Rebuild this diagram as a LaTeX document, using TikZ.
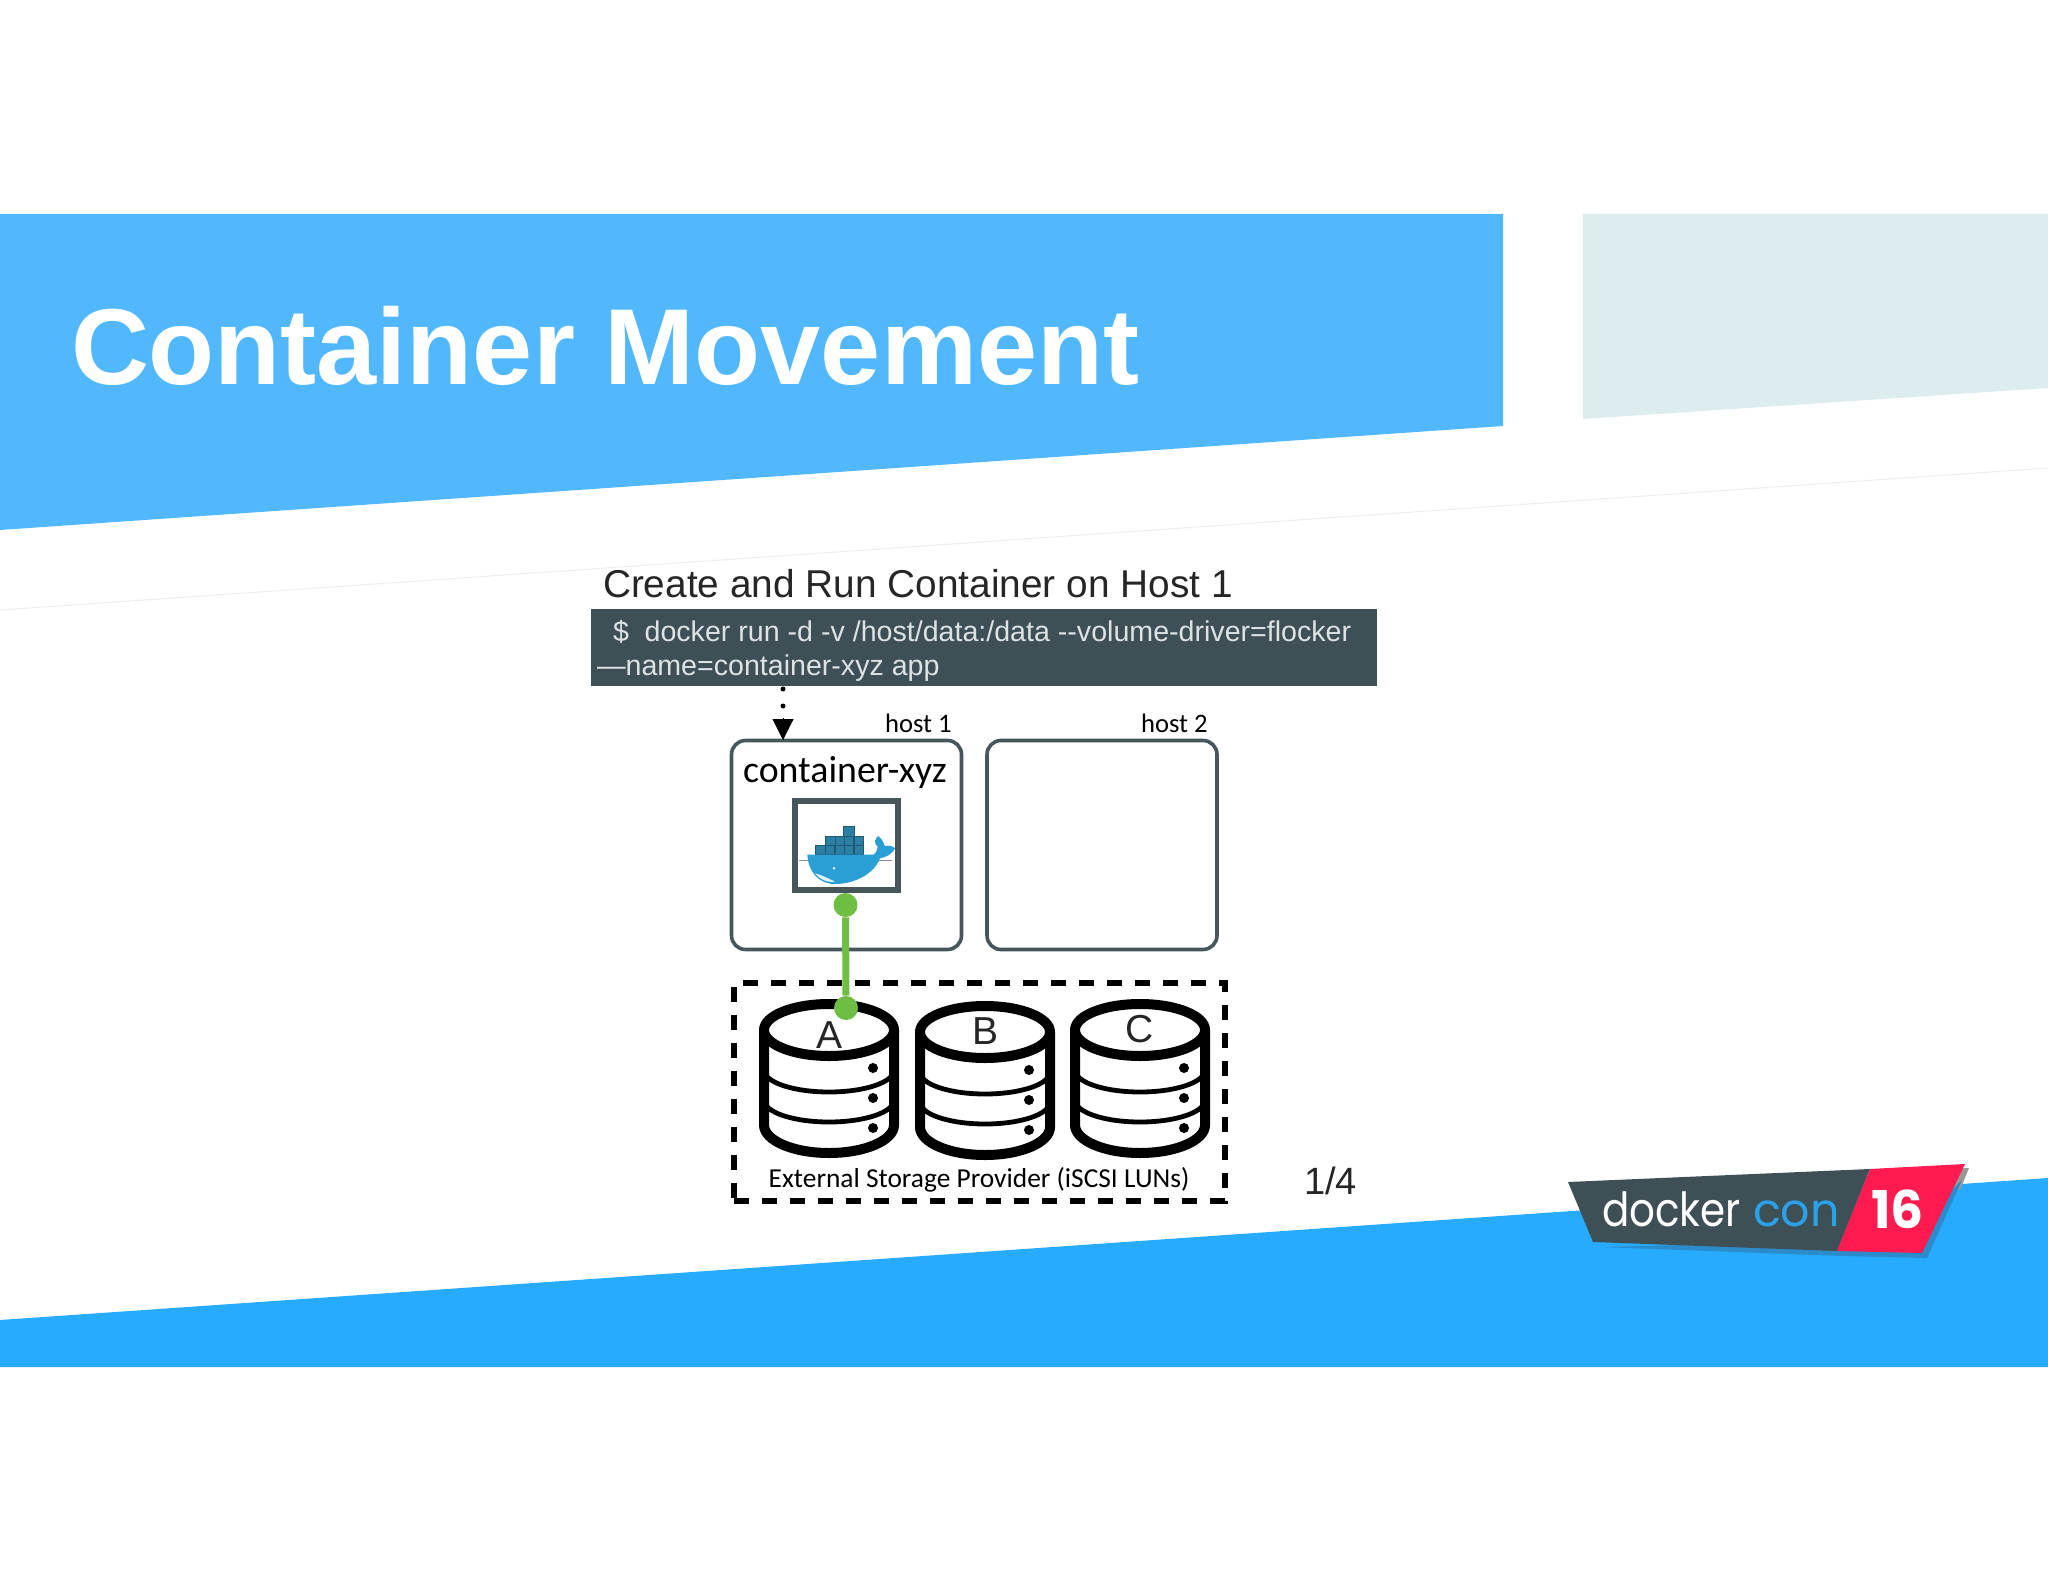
\documentclass[tikz,border=0pt]{standalone}
\usepackage{graphicx}
\usepackage{fontspec}
\setmainfont{Liberation Sans}
\newfontfamily\carl{Carlito}
\newfontfamily\pop{Poppins}
\usetikzlibrary{arrows.meta}
\definecolor{banner}{HTML}{52B8FE}
\definecolor{paleb}{HTML}{DCECEF}
\definecolor{band}{HTML}{26ABFF}
\definecolor{slate}{HTML}{3F4F56}
\definecolor{hostline}{HTML}{46565B}
\definecolor{cmdtext}{HTML}{DDE3E4}
\definecolor{greenc}{HTML}{6FBE44}
\definecolor{logored}{HTML}{FF1A50}
\definecolor{logoblue}{HTML}{2AA2EA}
\definecolor{shadowb}{HTML}{2B8CCB}
\definecolor{whale}{HTML}{2A9FD6}
\definecolor{crate}{HTML}{2B7FA3}
\tikzset{
  txt/.style={inner sep=0pt,outer sep=0pt,anchor=base west},
  hostbox/.style={draw=hostline,line width=1.8pt,rounded corners=7pt,minimum width=115pt,minimum height=104.5pt,inner sep=0pt,fill=white},
  hostlabel/.style={inner sep=0pt,anchor=base east,font=\carl\fontsize{13.3pt}{15pt}\selectfont,text=black},
  greendot/.style={circle,fill=greenc,minimum size=12pt,inner sep=0pt},
  cylline/.style={draw=black,line width=5pt},
  cylthin/.style={draw=black,line width=2.4pt},
  crateb/.style={fill=crate,draw=crate!70!black,line width=.25pt}
}
\begin{document}
\begin{tikzpicture}[x=0.5pt,y=-0.5pt]
\useasboundingbox (0,0) rectangle (2048,1582);
\fill[white] (0,0) rectangle (2048,1582);
% faint slide seam
\draw[black!7,line width=.5pt] (0,610) -- (2048,468);
% banner shapes
\fill[banner] (0,214) -- (1503,214) -- (1503,426) -- (0,530) -- cycle;
\fill[paleb] (1583,214) -- (2048,214) -- (2048,388) -- (1583,419) -- cycle;
\fill[band] (0,1320) -- (2048,1178) -- (2048,1367) -- (0,1367) -- cycle;
\node[txt,text=white,font=\bfseries\fontsize{54pt}{60pt}\selectfont] (title) at (71,385) {Container Movement};
% heading + command
\node[txt,text=black!85,font=\fontsize{19.4pt}{22pt}\selectfont] (heading) at (603,597) {Create and Run Container on Host 1};
\node[fill=slate,draw=none,minimum width=393pt,minimum height=38.5pt,inner sep=0pt,anchor=north west] (cmd) at (591,609) {};
\node[txt,text=cmdtext,font=\fontsize{14.3pt}{17pt}\selectfont] (cmdone) at (613,641) {\$\hspace{.55em}docker run -d -v /host/data:/data -{}-volume-driver=flocker};
\node[txt,text=cmdtext,font=\fontsize{14.3pt}{17pt}\selectfont] (cmdtwo) at (597,675) {—name=container-xyz app};
% hosts
\node[hostbox] (hostA) at (846.5,845) {};
\node[hostbox] (hostB) at (1102,845) {};
\node[hostlabel] (hostAl) at (952,732) {host 1};
\node[hostlabel] (hostBl) at (1208,732) {host 2};
\node[inner sep=0pt,anchor=base,font=\carl\fontsize{18.9pt}{22pt}\selectfont] (cname) at (845,782) {container-xyz};
% arrow
\coordinate (arrS) at (783,689);
\coordinate (arrM) at (783,718);
\coordinate (arrE) at (783,740);
\draw[line width=2.5pt,line cap=round,dash pattern=on 0pt off 8.5pt] (arrS) -- (arrM);
\draw[-{Triangle[length=10.5pt,width=10.5pt]},line width=.5pt] (arrM) -- (arrE);
% container frame with whale
\node[draw=hostline,line width=3pt,fill=white,minimum width=51.5pt,minimum height=44.5pt,inner sep=0pt] (frame) at (846,845.5) {};
\begin{scope}[shift={(780,780)},x=0.16667pt,y=-0.16667pt]
  \draw[black!45,line width=.4pt] (58,240) -- (335,240);
  \foreach \x in {107,135,165,193,222} \path[crateb] (\x,195) rectangle ++(28,28);
  \foreach \x in {137,165,193,222} \path[crateb] (\x,168) rectangle ++(28,27);
  \path[crateb] (190,138) rectangle (222,168);
  \fill[whale] (82,224) -- (270,224) .. controls (285,228) and (290,215) .. (293,200)
     .. controls (280,190) and (285,175) .. (295,168)
     .. controls (305,175) and (312,190) .. (314,198)
     .. controls (330,195) and (340,200) .. (345,205)
     .. controls (335,225) and (315,232) .. (300,235)
     .. controls (280,285) and (220,312) .. (165,312)
     .. controls (115,312) and (85,275) .. (82,224) -- cycle;
  \fill[white!85!whale] (105,280) .. controls (125,285) and (145,295) .. (165,305)
     .. controls (140,308) and (118,298) .. (105,280) -- cycle;
  \fill[white] (162,265) circle (4);
\end{scope}
% cylinders
\foreach \cx/\dy/\lab/\ly/\nm in {829/0/A/1048/la,985/2/B/1042/lb,1140/0/C/1042/lc}{
  \begin{scope}[shift={(\cx,\dy)}]
    \fill[white] (-65,1030) -- (-65,1125) arc[start angle=180,end angle=0,x radius=65,y radius=28] -- (65,1030) -- cycle;
    \draw[cylline] (-65,1030) -- (-65,1125) arc[start angle=180,end angle=0,x radius=65,y radius=28] -- (65,1030);
    \draw[cylthin] (-65,1070) arc[start angle=180,end angle=0,x radius=65,y radius=22];
    \draw[cylthin] (-65,1100) arc[start angle=180,end angle=0,x radius=65,y radius=22];
    \draw[cylline,fill=white] (0,1030) ellipse[x radius=65,y radius=26];
    \foreach \dd in {1068,1098,1128} \fill (44,\dd) circle (5);
    \node[inner sep=0pt,anchor=base,text=black!85,font=\fontsize{19.5pt}{22pt}\selectfont] (\nm) at (0,\ly) {\lab};
  \end{scope}
}
% storage provider
\node[draw=black,line width=3.3pt,dash pattern=on 7.5pt off 6.5pt,minimum width=245.5pt,minimum height=109pt,inner sep=0pt] (store) at (979.5,1092) {};
\node[inner sep=0pt,anchor=base,font=\carl\fontsize{13.7pt}{16pt}\selectfont] (storel) at (979,1187) {External Storage Provider (iSCSI LUNs)};
\node[txt,text=black!85,font=\fontsize{19pt}{22pt}\selectfont] (page) at (1304,1194) {1/4};
% volume link
\node[greendot] (gtop) at (845.5,905) {};
\node[greendot] (gbot) at (846,1008) {};
\draw[greenc,line width=3.5pt] (gtop) -- (gbot);
% logo
\fill[black!40] (1874,1172) -- (1969,1168) -- (1960,1190) -- cycle;
\fill[shadowb] (1599,1247) -- (1843,1256) -- (1927,1258) -- (1962,1180) -- (1900,1240) -- cycle;
\fill[slate] (1568,1182) -- (1870,1169) -- (1837,1251) -- (1593,1242) -- cycle;
\fill[logored] (1870,1169) -- (1965,1164) -- (1922,1253) -- (1837,1251) -- cycle;
\node[txt,text=white,font=\pop\fontsize{23.5pt}{26pt}\selectfont] (lgA) at (1602,1226) {\scalebox{.86}[1]{docker}};
\node[txt,text=logoblue,font=\pop\fontsize{23pt}{26pt}\selectfont] (lgB) at (1753,1226) {con};
\node[txt,text=white,font=\pop\bfseries\fontsize{26pt}{28pt}\selectfont] (lgC) at (1871,1228) {16};
\end{tikzpicture}
\end{document}
